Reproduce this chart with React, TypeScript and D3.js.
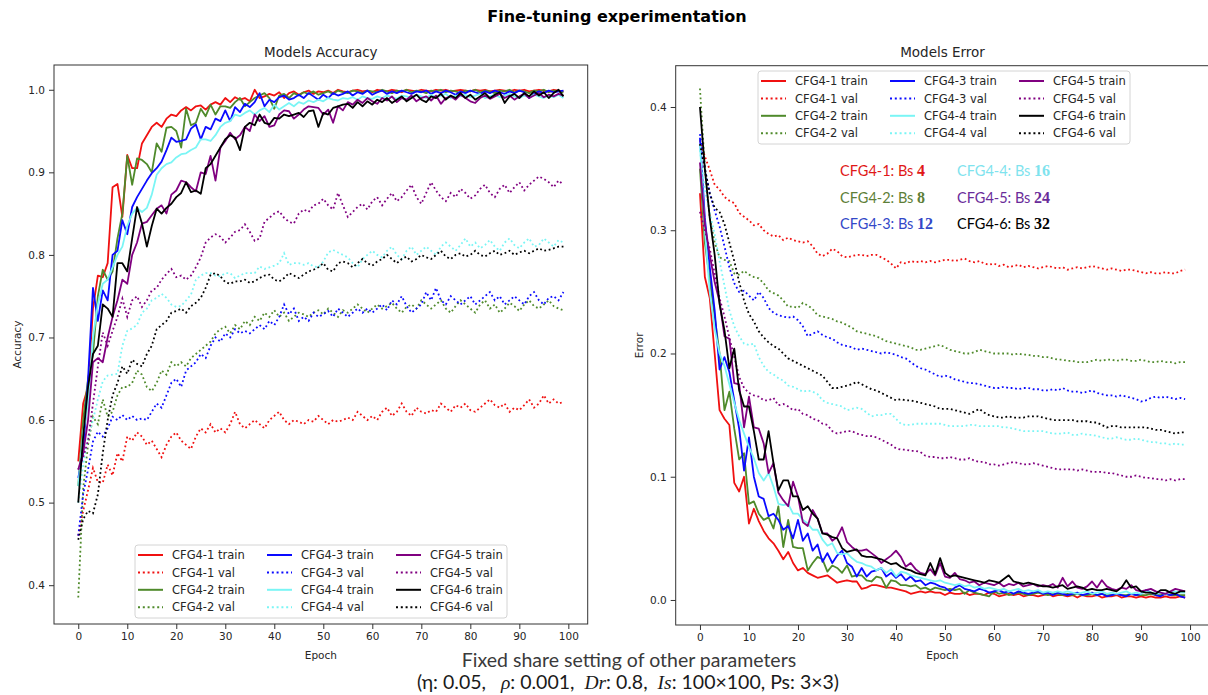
import React, { useEffect, useRef } from "react";
import * as d3 from "d3";

// ---- data ----
const epochs = d3.range(100);
const configNames = ["CFG4-1", "CFG4-2", "CFG4-3", "CFG4-4", "CFG4-5", "CFG4-6"];
const batchSizes = ["4", "8", "12", "16", "24", "32"];
const epochTicks = [0, 10, 20, 30, 40, 50, 60, 70, 80, 90, 100];
const accTicks = [0.4, 0.5, 0.6, 0.7, 0.8, 0.9, 1.0];
const errTicks = [0.0, 0.1, 0.2, 0.3, 0.4];

// accuracy, train
const accTrain1 = [
  .55, .62, .64, .735, .775, .773, .79, .882, .886, .846,
  .921, .905, .905, .935, .945, .955, .96, .955, .965, .97,
  .968, .975, .979, .975, .98, .981, .976, .982, .985, .982,
  .99, .985, .991, .988, .99, .986, 1.0, .99, .992, .995,
  .993, .997, .99, .996, .998, .994, .997, .999, .995, .998,
  .997, .999, .996, 1.0, .998, .997, .999, 1.0, .998, .999,
  .997, 1.0, .999, .998, 1.0, .999, .997, 1.0, .999, .998,
  1.0, .999, .998, 1.0, .999, 1.0, .998, .999, 1.0, .999,
  .998, 1.0, .999, 1.0, .998, .999, 1.0, .999, .998, 1.0,
  .999, 1.0, .998, .999, 1.0, .999, .998, 1.0, .999, .998,
];
const accTrain2 = [
  .52, .6, .65, .68, .75, .782, .77, .78, .82, .85,
  .92, .885, .917, .915, .91, .9, .935, .925, .954, .955,
  .95, .93, .977, .957, .96, .977, .968, .982, .97, .98,
  .98, .978, .985, .99, .98, .985, .99, .993, .996, .99,
  .977, .993, .995, .99, .996, .993, .997, .995, .998, .994,
  .996, .998, .995, .999, .997, .996, .999, .998, .996, .999,
  .998, .997, 1.0, .998, .996, .999, .998, 1.0, .997, .999,
  .998, .996, .999, .998, 1.0, .997, .999, .998, .996, .999,
  .998, 1.0, .997, .999, .998, .996, .999, .998, 1.0, .997,
  .999, .998, .996, .999, .998, 1.0, .997, .999, .998, .997,
];
const accTrain3 = [
  .53, .56, .65, .76, .72, .757, .745, .8, .805, .842,
  .825, .858, .87, .88, .89, .899, .905, .913, .927, .942,
  .937, .938, .94, .953, .958, .94, .955, .952, .965, .962,
  .975, .962, .979, .973, .983, .979, .985, .996, .98, .988,
  .985, .991, .993, .988, .99, .994, .99, .996, .992, .988,
  .994, .99, .996, .993, .995, .998, .993, .997, .995, .999,
  .994, .997, .999, .995, .998, .996, .999, .997, .995, .998,
  .997, .999, .995, .998, .996, .999, .997, .994, .998, .996,
  .999, .997, .995, .998, .996, .999, .997, .995, .998, .996,
  .999, .997, .99, .995, .998, .996, .999, .997, .998, .999,
];
const accTrain4 = [
  .52, .585, .62, .7, .74, .765, .77, .785, .8, .81,
  .835, .85, .857, .852, .857, .873, .897, .905, .91, .912,
  .918, .922, .923, .927, .93, .94, .94, .938, .945, .955,
  .96, .962, .97, .968, .972, .975, .97, .975, .978, .973,
  .982, .976, .98, .984, .98, .985, .983, .987, .985, .988,
  .986, .99, .988, .987, .99, .989, .991, .988, .992, .99,
  .989, .992, .99, .993, .991, .989, .993, .992, .99, .994,
  .992, .99, .994, .991, .993, .995, .99, .993, .992, .994,
  .991, .993, .995, .99, .992, .994, .991, .993, .995, .992,
  .99, .993, .991, .994, .992, .99, .993, .991, .994, .99,
];
const accTrain5 = [
  .54, .56, .6, .67, .675, .67, .7, .725, .745, .77,
  .765, .8, .815, .838, .84, .848, .856, .86, .85, .873,
  .878, .89, .888, .882, .877, .9, .898, .92, .89, .93,
  .938, .948, .94, .945, .955, .95, .97, .962, .968, .955,
  .957, .97, .975, .974, .965, .97, .976, .98, .979, .978,
  .97, .976, .96, .98, .975, .985, .982, .988, .984, .99,
  .986, .983, .99, .987, .992, .985, .99, .988, .993, .986,
  .99, .992, .987, .993, .983, .99, .992, .988, .994, .99,
  .986, .984, .99, .993, .989, .992, .995, .99, .993, .988,
  .992, .995, .99, .993, .996, .991, .994, .992, .995, .993,
];
const accTrain6 = [
  .5, .58, .64, .68, .69, .74, .735, .725, .79, .79,
  .78, .82, .858, .838, .81, .835, .856, .85, .857, .862,
  .87, .875, .888, .876, .878, .874, .905, .91, .92, .93,
  .94, .945, .942, .927, .955, .96, .957, .97, .96, .958,
  .966, .965, .97, .968, .97, .972, .967, .974, .975, .955,
  .972, .97, .978, .98, .982, .983, .978, .985, .98, .986,
  .982, .988, .985, .99, .984, .988, .992, .986, .99, .994,
  .988, .985, .992, .99, .995, .988, .993, .99, .996, .99,
  .994, .988, .992, .996, .99, .994, .997, .984, .992, .995,
  .99, .996, .992, .998, .993, .997, .99, .996, 1.0, .992,
];

// accuracy, validation
const accVal1 = [
  .46, .49, .515, .542, .525, .524, .546, .533, .56, .55,
  .58, .575, .585, .58, .57, .575, .565, .555, .57, .58,
  .585, .575, .57, .565, .58, .59, .585, .595, .585, .59,
  .585, .595, .61, .595, .59, .595, .6, .595, .59, .6,
  .605, .61, .6, .595, .6, .598, .595, .6, .598, .605,
  .6, .595, .6, .598, .6, .603, .6, .61, .605, .6,
  .605, .6, .61, .615, .605, .61, .62, .61, .605, .615,
  .61, .608, .612, .61, .62, .615, .61, .618, .615, .62,
  .612, .61, .615, .62, .625, .618, .615, .62, .61, .615,
  .612, .618, .625, .615, .62, .63, .62, .625, .62, .622,
];
const accVal2 = [
  .385, .517, .57, .604, .595, .625, .604, .61, .63, .64,
  .64, .645, .66, .655, .64, .635, .645, .66, .655, .67,
  .665, .67, .665, .675, .68, .685, .69, .695, .705, .71,
  .713, .705, .715, .71, .72, .715, .725, .72, .73, .725,
  .733, .725, .73, .72, .725, .73, .728, .725, .73, .733,
  .728, .735, .73, .725, .733, .73, .735, .74, .735, .73,
  .735, .74, .735, .738, .742, .735, .73, .737, .74, .735,
  .745, .74, .735, .74, .745, .735, .73, .738, .745, .74,
  .735, .73, .74, .745, .735, .74, .73, .735, .742, .738,
  .732, .74, .745, .738, .735, .74, .745, .738, .735, .733,
];
const accVal3 = [
  .46, .51, .54, .574, .586, .58, .59, .604, .6, .606,
  .6, .605, .6, .602, .6, .61, .62, .615, .63, .645,
  .65, .64, .66, .665, .67, .68, .675, .69, .7, .695,
  .705, .7, .71, .705, .708, .705, .71, .715, .71, .72,
  .715, .725, .74, .728, .735, .72, .725, .72, .73, .725,
  .728, .732, .725, .735, .73, .725, .73, .735, .73, .735,
  .73, .735, .74, .733, .745, .74, .75, .738, .73, .735,
  .74, .755, .745, .76, .745, .74, .75, .745, .74, .745,
  .75, .74, .745, .75, .755, .745, .75, .74, .745, .75,
  .745, .74, .75, .755, .745, .74, .748, .75, .745, .755,
];
const accVal4 = [
  .5, .545, .58, .6, .625, .647, .654, .655, .656, .69,
  .708, .711, .715, .73, .735, .745, .748, .753, .748, .74,
  .737, .738, .745, .752, .77, .775, .778, .778, .775, .774,
  .778, .778, .772, .775, .778, .778, .778, .786, .783, .785,
  .787, .79, .802, .788, .79, .79, .788, .79, .786, .785,
  .792, .803, .806, .803, .8, .797, .79, .785, .795, .8,
  .805, .8, .797, .805, .81, .8, .795, .805, .81, .8,
  .805, .81, .805, .8, .81, .815, .81, .805, .812, .82,
  .81, .815, .808, .812, .818, .81, .805, .815, .82, .812,
  .808, .815, .82, .81, .812, .82, .815, .81, .818, .815,
];
const accVal5 = [
  .54, .555, .575, .62, .665, .706, .69, .708, .725, .747,
  .725, .745, .75, .737, .745, .757, .76, .77, .777, .783,
  .773, .775, .77, .775, .785, .797, .815, .821, .825, .822,
  .815, .821, .828, .83, .837, .828, .817, .82, .84, .845,
  .85, .853, .845, .84, .838, .85, .855, .852, .86, .862,
  .868, .86, .855, .875, .86, .846, .852, .858, .862, .855,
  .865, .87, .86, .868, .875, .865, .87, .878, .885, .87,
  .862, .875, .888, .878, .87, .865, .875, .87, .88, .875,
  .868, .872, .88, .885, .875, .87, .88, .885, .875, .882,
  .888, .878, .885, .89, .895, .892, .888, .882, .89, .885,
];
const accVal6 = [
  .455, .48, .49, .487, .51, .56, .6, .63, .645, .665,
  .656, .673, .668, .665, .68, .69, .71, .715, .72, .73,
  .732, .735, .73, .738, .742, .748, .76, .776, .778, .774,
  .767, .765, .768, .768, .77, .766, .768, .772, .775, .776,
  .77, .768, .772, .778, .775, .772, .776, .78, .782, .785,
  .79, .782, .78, .79, .792, .79, .785, .79, .795, .79,
  .787, .792, .795, .8, .795, .79, .795, .798, .792, .795,
  .8, .797, .795, .8, .805, .798, .795, .8, .802, .798,
  .8, .805, .8, .798, .802, .805, .8, .802, .805, .8,
  .803, .805, .802, .805, .808, .805, .806, .808, .81, .81,
];

// error, train
const errTrain1 = [
  .33, .262, .245, .2, .154, .147, .142, .095, .088, .1,
  .062, .074, .064, .056, .05, .046, .04, .033, .039, .03,
  .024, .026, .022, .02, .018, .019, .02, .017, .014, .015,
  .016, .015, .015, .009, .01, .012, .012, .011, .01, .01,
  .009, .008, .007, .005, .006, .007, .006, .007, .006, .006,
  .004, .006, .005, .005, .006, .004, .005, .005, .004, .006,
  .005, .003, .004, .005, .004, .005, .003, .004, .004, .003,
  .004, .005, .003, .004, .004, .003, .004, .002, .004, .003,
  .003, .004, .002, .003, .003, .004, .002, .003, .003, .002,
  .003, .002, .003, .002, .002, .003, .002, .002, .003, .002,
];
const errTrain2 = [
  .35, .29, .26, .23, .2, .154, .169, .139, .114, .119,
  .078, .08, .07, .065, .067, .058, .076, .043, .065, .043,
  .042, .042, .024, .03, .035, .033, .023, .028, .026, .022,
  .028, .019, .02, .02, .016, .015, .019, .018, .01, .016,
  .015, .012, .012, .011, .012, .009, .01, .008, .01, .009,
  .008, .009, .008, .009, .005, .008, .006, .005, .004, .003,
  .007, .005, .006, .004, .005, .006, .005, .004, .005, .006,
  .005, .004, .005, .005, .004, .005, .004, .005, .004, .004,
  .005, .004, .005, .004, .004, .005, .004, .004, .005, .004,
  .004, .004, .005, .004, .004, .005, .004, .004, .004, .004,
];
const errTrain3 = [
  .375, .31, .27, .235, .187, .197, .185, .162, .139, .105,
  .132, .1, .084, .082, .068, .07, .065, .057, .06, .05,
  .065, .048, .054, .04, .045, .031, .038, .03, .036, .04,
  .03, .027, .019, .026, .019, .023, .024, .026, .019, .022,
  .018, .021, .016, .019, .015, .016, .012, .014, .013, .011,
  .01, .007, .01, .012, .009, .008, .007, .009, .008, .006,
  .007, .008, .006, .007, .005, .007, .006, .005, .006, .007,
  .005, .006, .004, .006, .005, .004, .005, .006, .004, .005,
  .006, .004, .005, .003, .004, .005, .004, .003, .005, .004,
  .005, .008, .006, .004, .003, .005, .004, .005, .003, .002,
];
const errTrain4 = [
  .37, .3, .25, .22, .2, .19, .175, .16, .146, .135,
  .124, .115, .103, .097, .103, .092, .078, .077, .078, .07,
  .07, .065, .062, .057, .057, .049, .044, .046, .038, .037,
  .038, .034, .031, .03, .028, .027, .024, .026, .022, .025,
  .019, .023, .022, .02, .019, .018, .017, .016, .015, .016,
  .014, .013, .012, .013, .011, .012, .01, .011, .009, .01,
  .009, .008, .009, .007, .008, .009, .007, .008, .007, .008,
  .006, .007, .006, .007, .006, .007, .006, .005, .006, .007,
  .005, .006, .007, .005, .006, .005, .006, .007, .005, .006,
  .005, .007, .006, .005, .006, .005, .006, .007, .006, .006,
];
const errTrain5 = [
  .355, .305, .28, .258, .242, .214, .212, .176, .175, .14,
  .165, .14, .139, .127, .103, .111, .087, .081, .076, .096,
  .084, .063, .06, .073, .066, .054, .054, .048, .051, .059,
  .047, .043, .04, .04, .041, .038, .035, .03, .033, .036,
  .04, .035, .027, .03, .025, .022, .021, .025, .02, .03,
  .019, .018, .022, .017, .016, .014, .015, .012, .014, .013,
  .012, .014, .011, .013, .012, .014, .011, .012, .013, .011,
  .012, .011, .013, .01, .018, .011, .015, .01, .009, .011,
  .015, .01, .016, .011, .009, .008, .01, .009, .012, .008,
  .007, .008, .009, .007, .006, .005, .007, .009, .008, .007,
];
const errTrain6 = [
  .4, .35, .31, .28, .24, .219, .188, .204, .17, .157,
  .157, .137, .114, .114, .137, .111, .089, .097, .097, .084,
  .084, .073, .076, .07, .066, .054, .053, .051, .05, .042,
  .039, .04, .041, .036, .035, .035, .034, .033, .031, .029,
  .03, .027, .025, .024, .022, .021, .02, .03, .021, .034,
  .022, .019, .02, .019, .018, .017, .016, .015, .014, .016,
  .015, .014, .017, .02, .015, .014, .013, .014, .013, .012,
  .011, .011, .01, .011, .012, .009, .01, .011, .01, .008,
  .009, .008, .008, .009, .008, .007, .01, .016, .01, .011,
  .007, .006, .006, .005, .008, .008, .006, .005, .007, .007,
];

// error, validation
const errVal1 = [
  .373, .36, .349, .337, .333, .327, .324, .322, .314, .311,
  .308, .304, .305, .3, .297, .295, .296, .292, .294, .292,
  .291, .29, .291, .287, .281, .279, .281, .285, .283, .279,
  .278, .279, .28, .28, .279, .28, .28, .278, .276, .273,
  .269, .274, .273, .275, .274, .275, .274, .275, .274, .275,
  .276, .276, .275, .276, .277, .275, .274, .275, .273, .272,
  .273, .271, .272, .27, .271, .272, .27, .271, .27, .269,
  .27, .271, .27, .269, .27, .268, .269, .27, .269, .27,
  .271, .27, .269, .268, .269, .268, .267, .268, .268, .267,
  .266, .265, .266, .265, .265, .266, .265, .265, .267, .268,
];
const errVal2 = [
  .415, .35, .31, .29, .278, .276, .275, .265, .264, .267,
  .264, .262, .261, .257, .251, .249, .247, .243, .238, .238,
  .237, .241, .239, .236, .231, .23, .229, .228, .226, .225,
  .223, .221, .218, .217, .216, .215, .214, .212, .21, .209,
  .208, .207, .206, .205, .203, .203, .204, .205, .206, .207,
  .205, .203, .202, .201, .2, .2, .201, .203, .202, .201,
  .2, .2, .2, .2, .199, .2, .199, .199, .198, .198,
  .197, .197, .196, .195, .195, .194, .194, .193, .193, .193,
  .194, .195, .194, .195, .195, .194, .195, .195, .194, .194,
  .195, .194, .193, .193, .194, .193, .193, .192, .193, .193,
];
const errVal3 = [
  .378, .35, .33, .316, .303, .287, .27, .257, .25, .251,
  .247, .243, .25, .245, .237, .233, .231, .23, .229, .23,
  .227, .222, .214, .216, .218, .215, .213, .212, .209, .207,
  .206, .205, .203, .204, .203, .202, .201, .2, .201, .2,
  .199, .197, .196, .193, .19, .188, .187, .185, .183, .181,
  .182, .181, .179, .178, .177, .176, .176, .175, .174, .173,
  .172, .172, .173, .172, .172, .171, .172, .172, .171, .171,
  .17, .17, .171, .17, .172, .17, .169, .169, .168, .169,
  .17, .168, .167, .166, .166, .165, .166, .165, .164, .163,
  .161, .162, .164, .165, .164, .165, .164, .163, .164, .163,
];
const errVal4 = [
  .365, .333, .314, .297, .275, .255, .235, .222, .214, .208,
  .207, .208, .197, .19, .185, .183, .18, .178, .174, .173,
  .171, .169, .17, .169, .167, .162, .16, .159, .158, .157,
  .154, .155, .156, .155, .152, .149, .15, .15, .151, .151,
  .147, .143, .142, .142, .143, .143, .143, .143, .143, .143,
  .142, .141, .141, .141, .141, .142, .142, .141, .141, .141,
  .141, .141, .14, .14, .139, .138, .137, .137, .137, .137,
  .137, .136, .135, .135, .135, .136, .134, .134, .135, .134,
  .134, .133, .132, .131, .131, .132, .131, .13, .13, .131,
  .13, .129, .128, .128, .127, .127, .126, .127, .126, .126,
];
const errVal5 = [
  .315, .3, .285, .265, .245, .23, .213, .197, .181, .172,
  .168, .166, .165, .162, .162, .164, .158, .159, .157, .154,
  .155, .151, .15, .147, .146, .143, .142, .137, .135, .136,
  .137, .137, .135, .134, .133, .133, .132, .13, .128, .126,
  .123, .122, .122, .121, .121, .12, .117, .116, .116, .115,
  .115, .116, .115, .114, .114, .115, .113, .112, .112, .11,
  .11, .109, .11, .111, .112, .111, .11, .11, .111, .11,
  .109, .108, .107, .106, .106, .106, .106, .105, .106, .105,
  .104, .104, .104, .103, .103, .102, .101, .1, .1, .101,
  .1, .099, .099, .098, .098, .097, .098, .097, .098, .098,
];
const errVal6 = [
  .37, .35, .33, .318, .315, .305, .29, .275, .258, .243,
  .232, .226, .218, .213, .209, .206, .204, .2, .196, .194,
  .192, .19, .188, .186, .184, .182, .177, .172, .172, .173,
  .174, .175, .177, .175, .173, .171, .17, .168, .166, .164,
  .162, .163, .162, .162, .161, .16, .159, .158, .157, .155,
  .155, .155, .154, .153, .152, .151, .153, .155, .152, .15,
  .149, .148, .148, .149, .148, .148, .148, .149, .149, .149,
  .148, .147, .146, .146, .146, .146, .146, .145, .145, .145,
  .144, .144, .142, .14, .141, .141, .14, .14, .14, .14,
  .14, .14, .139, .138, .138, .137, .136, .135, .136, .136,
];

const accTrain = [accTrain1, accTrain2, accTrain3, accTrain4, accTrain5, accTrain6];
const accVal = [accVal1, accVal2, accVal3, accVal4, accVal5, accVal6];
const errTrain = [errTrain1, errTrain2, errTrain3, errTrain4, errTrain5, errTrain6];
const errVal = [errVal1, errVal2, errVal3, errVal4, errVal5, errVal6];

// ---- styles ----
const lineColors = ["#f01010", "#4f8a2b", "#0a0aff", "#7af5f5", "#800080", "#000000"];
const noteColors = ["#e01818", "#5e7f38", "#3348c8", "#7fe3ee", "#6a2c9a", "#000000"];
const FONT = "DejaVu Sans, sans-serif";
const TEXT = "#262626";

type Panel = {
  x0: number; x1: number; y0: number; y1: number;
  yDomain: [number, number];
  yTicks: number[];
  title: string;
  ylabel: string;
  train: number[][];
  val: number[][];
  legend: [number, number];
};

const drawPanel = (svg: any, p: Panel) => {
  const x = d3.scaleLinear().domain([-4.95, 103.95]).range([p.x0, p.x1]);
  const y = d3.scaleLinear().domain(p.yDomain).range([p.y1, p.y0]);
  const g = svg.append("g");

  // series: train then val for each config
  const line = d3
    .line<number>()
    .x((_, i) => x(epochs[i]))
    .y((d) => y(d));
  p.train.forEach((tr, k) => {
    g.append("path")
      .attr("d", line(tr))
      .attr("fill", "none")
      .attr("stroke", lineColors[k])
      .attr("stroke-width", 1.8)
      .attr("stroke-linejoin", "round");
    g.append("path")
      .attr("d", line(p.val[k]))
      .attr("fill", "none")
      .attr("stroke", lineColors[k])
      .attr("stroke-width", 1.8)
      .attr("stroke-dasharray", "1.8,2.7");
  });

  // frame
  g.append("rect")
    .attr("x", p.x0)
    .attr("y", p.y0)
    .attr("width", p.x1 - p.x0)
    .attr("height", p.y1 - p.y0)
    .attr("fill", "none")
    .attr("stroke", "#333")
    .attr("stroke-width", 1);

  // axes
  const yAxis = d3
    .axisLeft(y)
    .tickValues(p.yTicks)
    .tickFormat(d3.format(".1f"))
    .tickSize(5)
    .tickPadding(4);
  const xAxis = d3
    .axisBottom(x)
    .tickValues(epochTicks)
    .tickFormat(d3.format("d"))
    .tickSize(5)
    .tickPadding(4);
  const ya = g.append("g").attr("transform", `translate(${p.x0},0)`).call(yAxis);
  const xa = g.append("g").attr("transform", `translate(0,${p.y1})`).call(xAxis);
  [ya, xa].forEach((a) => {
    a.select(".domain").remove();
    a.selectAll("line").attr("stroke", "#333");
    a.selectAll("text")
      .attr("fill", TEXT)
      .style("font-family", FONT)
      .style("font-size", "10.5px");
  });

  // titles / labels
  const cx = (p.x0 + Math.min(p.x1, 1209)) / 2;
  g.append("text")
    .attr("x", (p.x0 + p.x1) / 2)
    .attr("y", 57)
    .attr("text-anchor", "middle")
    .attr("fill", TEXT)
    .style("font-family", FONT)
    .style("font-size", "13.5px")
    .text(p.title);
  g.append("text")
    .attr("x", cx)
    .attr("y", 659)
    .attr("text-anchor", "middle")
    .attr("fill", TEXT)
    .style("font-family", FONT)
    .style("font-size", "10.5px")
    .text("Epoch");
  g.append("text")
    .attr("transform", `translate(${p.x0 - 33},${(p.y0 + p.y1) / 2}) rotate(-90)`)
    .attr("text-anchor", "middle")
    .attr("fill", TEXT)
    .style("font-family", FONT)
    .style("font-size", "10.5px")
    .text(p.ylabel);

  // legend (column-major: train, val per config)
  const [lx, ly] = p.legend;
  const lg = g.append("g").attr("transform", `translate(${lx},${ly})`);
  lg.append("rect")
    .attr("width", 372)
    .attr("height", 73)
    .attr("rx", 3)
    .attr("fill", "white")
    .attr("fill-opacity", 0.85)
    .attr("stroke", "#d4d4d4");
  configNames.forEach((name, k) => {
    const col = Math.floor(k / 2);
    const rowBase = (k % 2) * 2;
    ["train", "val"].forEach((kind, j) => {
      const cy = 10 + (rowBase + j) * 17.4;
      const ox = 3 + col * 129;
      lg.append("line")
        .attr("x1", ox)
        .attr("x2", ox + 25)
        .attr("y1", cy)
        .attr("y2", cy)
        .attr("stroke", lineColors[k])
        .attr("stroke-width", 2)
        .attr("stroke-dasharray", kind === "val" ? "2,2.8" : null);
      lg.append("text")
        .attr("x", ox + 34)
        .attr("y", cy)
        .attr("dy", "0.36em")
        .attr("fill", TEXT)
        .style("font-family", FONT)
        .style("font-size", "11.5px")
        .text(`${name} ${kind}`);
    });
  });
};

const App = () => {
  const svgRef = useRef<SVGSVGElement | null>(null);

  useEffect(() => {
    if (!svgRef.current) return;
    const svg = d3.select(svgRef.current);
    svg.selectAll("*").remove();

    svg.append("rect").attr("width", 1208).attr("height", 695).attr("fill", "white");

    svg.append("text")
      .attr("x", 617)
      .attr("y", 22)
      .attr("text-anchor", "middle")
      .attr("fill", "#000")
      .style("font-family", FONT)
      .style("font-weight", "bold")
      .style("font-size", "16px")
      .text("Fine-tuning experimentation");

    drawPanel(svg, {
      x0: 54, x1: 587.7, y0: 65, y1: 624,
      yDomain: [0.353, 1.03],
      yTicks: accTicks,
      title: "Models Accuracy",
      ylabel: "Accuracy",
      train: accTrain,
      val: accVal,
      legend: [135, 545],
    });
    drawPanel(svg, {
      x0: 675.7, x1: 1209.4, y0: 65.7, y1: 625,
      yDomain: [-0.0203, 0.4335],
      yTicks: errTicks,
      title: "Models Error",
      ylabel: "Error",
      train: errTrain,
      val: errVal,
      legend: [758, 71],
    });

    // batch size notes
    configNames.forEach((name, k) => {
      const col = Math.floor(k / 3);
      const row = k % 3;
      const t = svg.append("text")
        .attr("x", 840 + col * 117)
        .attr("y", 176 + row * 26.5)
        .attr("fill", noteColors[k])
        .style("font-family", "Lato, sans-serif")
        .style("font-size", "14.5px");
      t.append("tspan").text(`${name}: Bs `);
      t.append("tspan")
        .style("font-family", "Liberation Serif, serif")
        .style("font-weight", "bold")
        .style("font-size", "16px")
        .text(batchSizes[k]);
    });

    // fixed parameters caption
    svg.append("text")
      .attr("x", 629)
      .attr("y", 667)
      .attr("text-anchor", "middle")
      .attr("fill", "#3a3a3a")
      .style("font-family", "Lato, sans-serif")
      .style("font-size", "19.5px")
      .text("Fixed share setting of other parameters");
    const cap = svg.append("text")
      .attr("x", 628)
      .attr("y", 689)
      .attr("text-anchor", "middle")
      .attr("fill", "#1a1a1a")
      .style("font-family", "Lato, sans-serif")
      .style("font-size", "19.5px")
      .style("white-space", "pre");
    const parts: [string, boolean][] = [
      ["(η: 0.05,   ", false],
      ["ρ", true],
      [": 0.001,  ", false],
      ["Dr", true],
      [": 0.8,  ", false],
      ["Is", true],
      [": 100×100, Ps: 3×3)", false],
    ];
    parts.forEach(([s, it]) => {
      cap.append("tspan")
        .style("font-style", it ? "italic" : "normal")
        .style("font-family", it ? "Liberation Serif, serif" : "Lato, sans-serif")
        .text(s);
    });
  }, []);

  return (
    <svg
      ref={svgRef}
      width={1208}
      height={695}
      style={{ position: "absolute", left: 0, top: 0 }}
    ></svg>
  );
};

export default App;
